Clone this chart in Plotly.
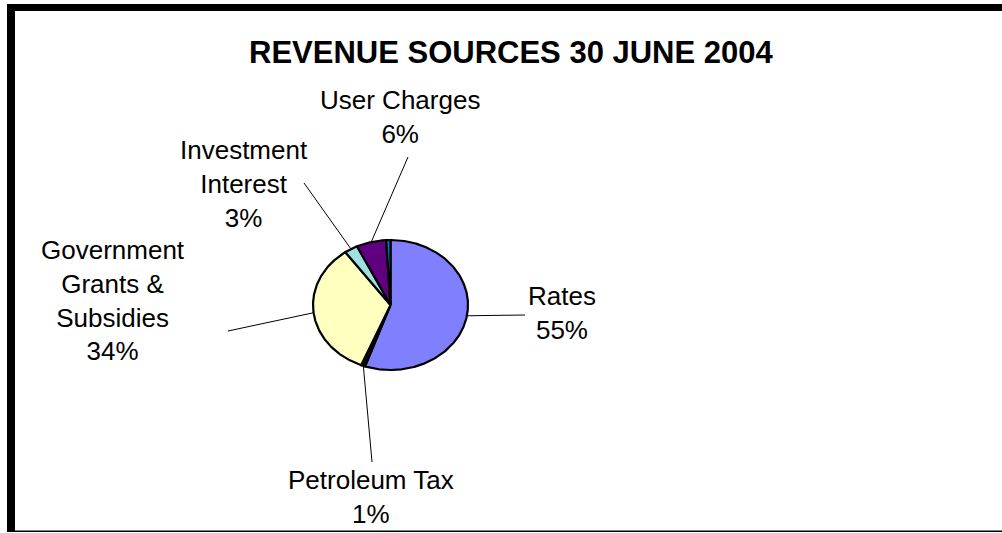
import numpy as np
import plotly.graph_objects as go

# Revenue sources, share of total (%)
categories = ["Rates", "Petroleum Tax", "Government Grants & Subsidies",
              "Investment Interest", "User Charges", "Other"]
values = [55.3, 0.8, 34.0, 2.8, 6.2, 0.9]
slice_colors = ["#8080FF", "#141414", "#FFFFC0", "#A0E0E0", "#600080", "#0070C0"]
label_lines = ["Rates", "Petroleum Tax", "Government<br>Grants &<br>Subsidies",
               "Investment<br>Interest", "User Charges", None]

# Layout constants (canvas pixel units)
W, H = 1002, 533
CX, CY, RX, RY = 390.5, 305.0, 77.5, 65.0
label_pos = [(562, 313), (371, 497), (113, 300), (244, 184), (400, 117), None]
leader_end = [(525, 315), (372, 462), (228, 331), (304, 183), (408, 157), None]

FONT = "Liberation Sans, Arial, sans-serif"

fig = go.Figure()

total = float(sum(values))
start = 0.0
annotations = []
for i, v in enumerate(values):
    frac = v / total
    t0, t1 = start * 360.0, (start + frac) * 360.0
    n = max(3, int((t1 - t0) * 3) + 2)
    t = np.radians(np.linspace(t0, t1, n))
    xs = np.concatenate([[CX], CX + RX * np.sin(t), [CX]])
    ys = np.concatenate([[CY], CY - RY * np.cos(t), [CY]])
    fig.add_trace(go.Scatter(
        x=xs, y=ys, mode="lines", fill="toself",
        fillcolor=slice_colors[i],
        line=dict(color="black", width=2.2),
        name=categories[i], hoverinfo="name", showlegend=False,
    ))
    if label_lines[i] is not None:
        tm = np.radians((t0 + t1) / 2.0)
        ex, ey = CX + RX * np.sin(tm), CY - RY * np.cos(tm)
        lx, ly = leader_end[i]
        fig.add_trace(go.Scatter(
            x=[ex, lx], y=[ey, ly], mode="lines",
            line=dict(color="black", width=1),
            hoverinfo="skip", showlegend=False,
        ))
        px, py = label_pos[i]
        annotations.append(dict(
            x=px, y=py, xref="x", yref="y",
            text=f"{label_lines[i]}<br>{round(frac * 100)}%",
            showarrow=False, xanchor="center", yanchor="middle", align="center",
            font=dict(family=FONT, size=26, color="black"),
        ))
    start += frac

annotations.append(dict(
    x=511, y=52, xref="x", yref="y",
    text="<b>REVENUE SOURCES 30 JUNE 2004</b>",
    showarrow=False, xanchor="center", yanchor="middle",
    font=dict(family=FONT, size=31, color="black"),
))

# Chart frame: heavy top and left edges, thin bottom edge
shapes = [
    dict(type="rect", xref="x", yref="y", x0=7, x1=W, y0=4, y1=11,
         fillcolor="black", line=dict(width=0), layer="above"),
    dict(type="rect", xref="x", yref="y", x0=7, x1=15, y0=4, y1=532,
         fillcolor="black", line=dict(width=0), layer="above"),
    dict(type="rect", xref="x", yref="y", x0=7, x1=W, y0=530.5, y1=532,
         fillcolor="black", line=dict(width=0), layer="above"),
]

fig.update_layout(
    width=W, height=H, autosize=False,
    margin=dict(l=0, r=0, t=0, b=0),
    paper_bgcolor="white", plot_bgcolor="white",
    xaxis=dict(range=[0, W], visible=False, fixedrange=True),
    yaxis=dict(range=[H, 0], visible=False, fixedrange=True),
    annotations=annotations,
    shapes=shapes,
    showlegend=False,
)

fig.write_html("out.html")
